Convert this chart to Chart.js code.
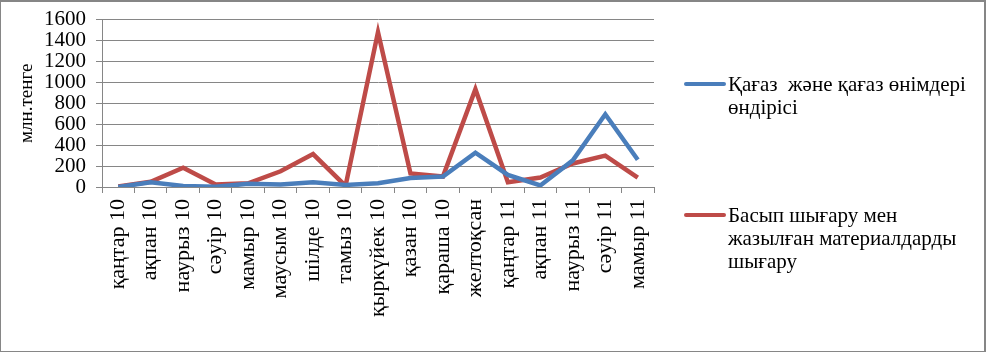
<!DOCTYPE html>
<html><head><meta charset="utf-8">
<script src="https://cdn.jsdelivr.net/npm/chart.js@4/dist/chart.umd.min.js"></script>
<style>
html,body{margin:0;padding:0;background:#fff;}
#wrap{position:relative;width:986px;height:352px;box-sizing:border-box;border:2px solid #868686;border-bottom-width:1px;border-left-width:1px;overflow:hidden;}
canvas{position:absolute;left:-1px;top:-5px;}
.leg{position:absolute;font-family:"Liberation Serif","Times New Roman","DejaVu Serif",serif;font-size:21px;line-height:23px;color:#000;white-space:nowrap;}
.sw{position:absolute;height:4px;width:42px;border-radius:2px;}
</style></head>
<body>
<div id="wrap">
<canvas id="c" width="986" height="352"></canvas>
<div class="sw" style="left:683px;top:80px;background:#4A7EBB"></div>
<div class="leg" style="left:727px;top:71px">Қағаз&nbsp; және қағаз өнімдері<br>өндірісі</div>
<div class="sw" style="left:683px;top:211px;background:#BE4B48"></div>
<div class="leg" style="left:727px;top:202px">Басып шығару мен<br>жазылған материалдарды<br>шығару</div>
</div>
<script>
const categories = ["қаңтар 10","ақпан 10","наурыз 10","сәуір 10","мамыр 10","маусым 10","шілде 10","тамыз 10","қыркүйек 10","қазан 10","қараша 10","желтоқсан","қаңтар 11","ақпан 11","наурыз 11","сәуір 11","мамыр 11"];
const paperValues = [0,45,10,3,30,25,45,20,35,85,100,328,115,15,255,695,260];
const printValues = [5,50,185,25,35,150,315,10,1480,130,100,935,45,90,225,300,90];
const yTicks = [0,200,400,600,800,1000,1200,1400,1600];
const seriesNames = ["Қағаз  және қағаз өнімдері өндірісі","Басып шығару мен жазылған материалдарды шығару"];
const FAM = '"Liberation Serif","Times New Roman","DejaVu Serif",serif';

new Chart(document.getElementById('c'), {
  type: 'line',
  data: {
    labels: categories,
    datasets: [
      {label: seriesNames[0], data: paperValues, borderColor:'#4A7EBB', borderWidth:4.5, pointRadius:0, tension:0, fill:false},
      {label: seriesNames[1], data: printValues, borderColor:'#BE4B48', borderWidth:4.5, pointRadius:0, tension:0, fill:false}
    ]
  },
  options: {
    responsive:false, animation:false,
    layout:{padding:{left:0,right:332,top:15,bottom:0}},
    plugins:{legend:{display:false},tooltip:{enabled:false}},
    scales:{
      x:{
        offset:true,
        grid:{offset:true,drawOnChartArea:false,drawTicks:true,tickLength:6,color:'#868686'},
        border:{color:'#868686',width:1},
        ticks:{minRotation:90,maxRotation:90,autoSkip:false,color:'#000',font:{family:FAM,size:22},padding:6},
        afterFit:(s)=>{s.height=162;}
      },
      y:{
        min:0,max:1600,
        afterBuildTicks:(s)=>{s.ticks=yTicks.map(v=>({value:v}));},
        grid:{color:'#868686',tickLength:6,lineWidth:1},
        border:{color:'#868686',width:1},
        ticks:{autoSkip:false,stepSize:200,color:'#000',font:{family:FAM,size:21},padding:10,callback:(v)=>String(v)},
        title:{display:true,text:'млн.тенге',color:'#000',font:{family:FAM,size:19},padding:{top:16,bottom:2}},
        afterFit:(s)=>{s.width=102;}
      }
    }
  }
});
</script>
</body></html>
